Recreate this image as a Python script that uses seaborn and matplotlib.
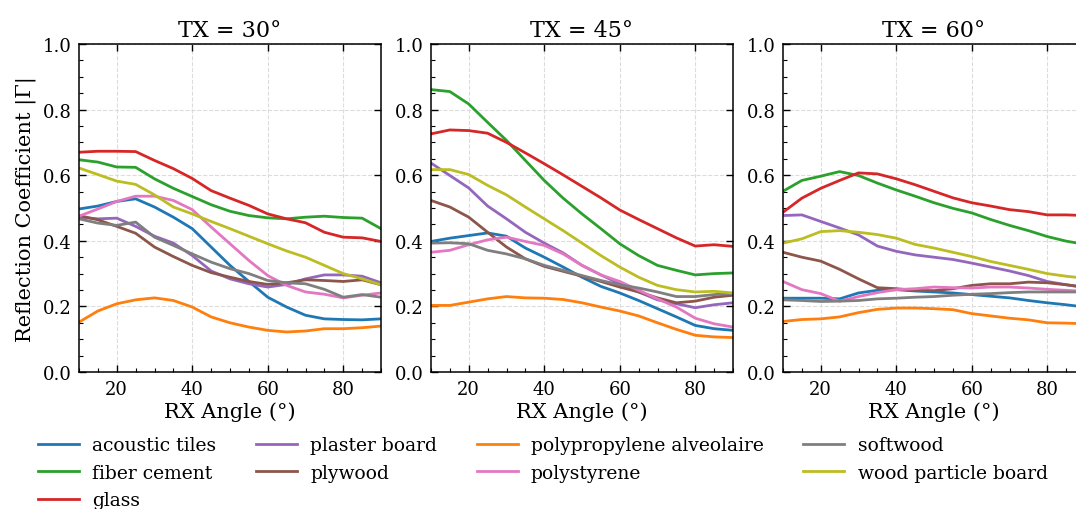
import pandas as pd
import seaborn as sns
import matplotlib.pyplot as plt
from matplotlib.ticker import MultipleLocator

rx_angles = [10, 15, 20, 25, 30, 35, 40, 45, 50, 55, 60, 65, 70, 75, 80, 85, 90]
tx_angles = [30, 45, 60]

materials = ['acoustic tiles', 'fiber cement', 'glass', 'plaster board', 'plywood',
             'polypropylene alveolaire', 'polystyrene', 'softwood', 'wood particle board']

# TX = 30
acoustic_30 = [0.497, 0.506, 0.52, 0.528, 0.503, 0.472, 0.437, 0.381, 0.325, 0.276, 0.228, 0.198, 0.173, 0.162, 0.16, 0.159, 0.162]
fiber_30 = [0.647, 0.64, 0.625, 0.624, 0.589, 0.56, 0.535, 0.51, 0.49, 0.477, 0.47, 0.467, 0.472, 0.475, 0.471, 0.469, 0.437]
glass_30 = [0.67, 0.673, 0.673, 0.672, 0.645, 0.62, 0.59, 0.553, 0.53, 0.508, 0.482, 0.467, 0.455, 0.426, 0.411, 0.409, 0.398]
plaster_30 = [0.472, 0.467, 0.469, 0.444, 0.414, 0.393, 0.355, 0.308, 0.284, 0.269, 0.259, 0.267, 0.284, 0.296, 0.296, 0.292, 0.272]
plywood_30 = [0.477, 0.464, 0.444, 0.423, 0.381, 0.352, 0.325, 0.303, 0.289, 0.276, 0.267, 0.272, 0.281, 0.279, 0.276, 0.281, 0.266]
polyprop_30 = [0.152, 0.186, 0.208, 0.22, 0.226, 0.218, 0.198, 0.168, 0.15, 0.137, 0.127, 0.122, 0.125, 0.132, 0.132, 0.135, 0.14]
polystyrene_30 = [0.475, 0.497, 0.52, 0.536, 0.536, 0.523, 0.495, 0.442, 0.391, 0.34, 0.294, 0.264, 0.244, 0.237, 0.226, 0.234, 0.241]
softwood_30 = [0.467, 0.454, 0.447, 0.457, 0.411, 0.386, 0.36, 0.335, 0.315, 0.3, 0.279, 0.272, 0.269, 0.252, 0.228, 0.236, 0.228]
particle_30 = [0.622, 0.602, 0.582, 0.572, 0.54, 0.503, 0.482, 0.459, 0.437, 0.414, 0.391, 0.369, 0.35, 0.325, 0.3, 0.284, 0.266]

# TX = 45
acoustic_45 = [0.398, 0.408, 0.416, 0.424, 0.414, 0.378, 0.35, 0.32, 0.289, 0.261, 0.241, 0.218, 0.193, 0.168, 0.142, 0.132, 0.127]
fiber_45 = [0.861, 0.855, 0.817, 0.761, 0.706, 0.645, 0.584, 0.53, 0.482, 0.437, 0.391, 0.355, 0.325, 0.31, 0.296, 0.3, 0.302]
glass_45 = [0.726, 0.738, 0.736, 0.728, 0.7, 0.668, 0.635, 0.601, 0.566, 0.531, 0.494, 0.465, 0.437, 0.409, 0.384, 0.388, 0.383]
plaster_45 = [0.637, 0.599, 0.561, 0.506, 0.467, 0.426, 0.393, 0.363, 0.325, 0.296, 0.269, 0.244, 0.22, 0.208, 0.196, 0.205, 0.211]
plywood_45 = [0.523, 0.503, 0.472, 0.426, 0.381, 0.345, 0.322, 0.307, 0.292, 0.276, 0.259, 0.244, 0.226, 0.211, 0.216, 0.228, 0.234]
polyprop_45 = [0.203, 0.203, 0.213, 0.223, 0.23, 0.226, 0.225, 0.221, 0.211, 0.198, 0.186, 0.171, 0.15, 0.13, 0.112, 0.107, 0.105]
polystyrene_45 = [0.365, 0.371, 0.388, 0.403, 0.411, 0.398, 0.386, 0.36, 0.325, 0.296, 0.276, 0.249, 0.223, 0.198, 0.164, 0.147, 0.137]
softwood_45 = [0.393, 0.394, 0.391, 0.371, 0.36, 0.345, 0.325, 0.31, 0.294, 0.279, 0.266, 0.256, 0.244, 0.23, 0.23, 0.236, 0.239]
particle_45 = [0.617, 0.617, 0.602, 0.569, 0.54, 0.503, 0.467, 0.431, 0.393, 0.355, 0.32, 0.289, 0.264, 0.251, 0.244, 0.246, 0.241]

# TX = 60
acoustic_60 = [0.225, 0.225, 0.225, 0.223, 0.241, 0.249, 0.251, 0.247, 0.244, 0.241, 0.236, 0.231, 0.226, 0.218, 0.211, 0.205, 0.198]
fiber_60 = [0.551, 0.584, 0.597, 0.611, 0.599, 0.576, 0.555, 0.536, 0.516, 0.499, 0.485, 0.465, 0.447, 0.431, 0.413, 0.399, 0.389]
glass_60 = [0.487, 0.53, 0.56, 0.584, 0.607, 0.604, 0.589, 0.571, 0.551, 0.531, 0.516, 0.506, 0.495, 0.489, 0.479, 0.479, 0.477]
plaster_60 = [0.477, 0.479, 0.459, 0.439, 0.418, 0.384, 0.368, 0.357, 0.35, 0.343, 0.332, 0.32, 0.308, 0.294, 0.276, 0.266, 0.257]
plywood_60 = [0.365, 0.35, 0.338, 0.313, 0.284, 0.257, 0.254, 0.249, 0.248, 0.254, 0.264, 0.269, 0.269, 0.274, 0.272, 0.266, 0.259]
polyprop_60 = [0.154, 0.16, 0.162, 0.168, 0.181, 0.191, 0.195, 0.195, 0.193, 0.19, 0.178, 0.171, 0.164, 0.159, 0.15, 0.149, 0.147]
polystyrene_60 = [0.276, 0.251, 0.239, 0.216, 0.23, 0.242, 0.251, 0.254, 0.259, 0.257, 0.256, 0.259, 0.259, 0.256, 0.252, 0.249, 0.246]
softwood_60 = [0.22, 0.218, 0.215, 0.216, 0.218, 0.223, 0.225, 0.228, 0.23, 0.234, 0.237, 0.239, 0.242, 0.244, 0.244, 0.244, 0.244]
particle_60 = [0.393, 0.406, 0.428, 0.431, 0.426, 0.419, 0.408, 0.389, 0.378, 0.365, 0.352, 0.337, 0.325, 0.313, 0.3, 0.292, 0.286]

series = {
    30: [acoustic_30, fiber_30, glass_30, plaster_30, plywood_30, polyprop_30, polystyrene_30, softwood_30, particle_30],
    45: [acoustic_45, fiber_45, glass_45, plaster_45, plywood_45, polyprop_45, polystyrene_45, softwood_45, particle_45],
    60: [acoustic_60, fiber_60, glass_60, plaster_60, plywood_60, polyprop_60, polystyrene_60, softwood_60, particle_60],
}

rows = []
for tx, curves in series.items():
    for mat, vals in zip(materials, curves):
        for rx, g in zip(rx_angles, vals):
            rows.append({'tx': tx, 'rx': rx, 'material': mat, 'gamma': g})
df = pd.DataFrame(rows)

palette = {
    'acoustic tiles': '#1f77b4', 'polypropylene alveolaire': '#ff7f0e',
    'fiber cement': '#2ca02c', 'glass': '#d62728', 'plaster board': '#9467bd',
    'plywood': '#8c564b', 'polystyrene': '#e377c2', 'softwood': '#7f7f7f',
    'wood particle board': '#bcbd22',
}

plt.rcParams['font.family'] = ['DejaVu Serif']
plt.rcParams['mathtext.fontset'] = 'dejavuserif'

W, H = 1076, 510
fig = plt.figure(figsize=(W / 100, H / 100), dpi=100)
lefts = [79, 431, 783]

for i, tx in enumerate(tx_angles):
    ax = fig.add_axes([lefts[i] / W, (H - 373) / H, 302 / W, 328 / H])
    sns.lineplot(data=df[df.tx == tx], x='rx', y='gamma', hue='material',
                 hue_order=materials, palette=palette, lw=2, ax=ax, legend=(i == 0))
    ax.set_xlim(10, 90)
    ax.set_ylim(0, 1)
    ax.xaxis.set_major_locator(MultipleLocator(20))
    ax.xaxis.set_minor_locator(MultipleLocator(5))
    ax.yaxis.set_major_locator(MultipleLocator(0.2))
    ax.yaxis.set_minor_locator(MultipleLocator(0.05))
    ax.tick_params(which='major', direction='in', top=True, right=True, length=5,
                   width=1, labelsize=13, pad=5.5)
    ax.tick_params(which='minor', direction='in', top=False, right=False, length=3, width=0.8)
    ax.grid(True, which='major', linestyle='--', color='#dcdcdc', lw=0.8)
    ax.set_axisbelow(True)
    for s in ax.spines.values():
        s.set_linewidth(1.1)
    ax.set_title(f'TX = {tx}°', fontsize=16)
    ax.set_xlabel('RX Angle (°)', fontsize=15, labelpad=3)
    if i == 0:
        ax.set_ylabel('Reflection Coefficient |Γ|', fontsize=15, labelpad=5)
        handles, labels = ax.get_legend_handles_labels()
        ax.get_legend().remove()
    else:
        ax.set_ylabel('')

fig.legend(handles, labels, ncol=4, loc='upper left', bbox_to_anchor=(0.0284, 0.157),
           frameon=False, fontsize=13.5, handlelength=2.2, handletextpad=0.7,
           columnspacing=2.1, labelspacing=0.5, borderaxespad=0)

fig.savefig('out.png', dpi=100)
